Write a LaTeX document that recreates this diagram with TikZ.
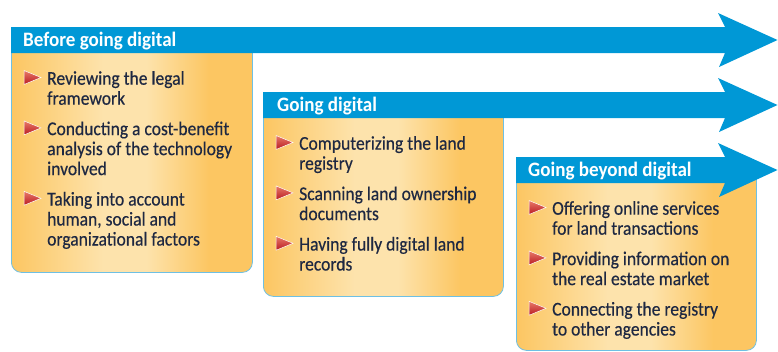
\documentclass[tikz,border=0pt]{standalone}
\usepackage{fontspec}
\setmainfont{Carlito}
\newfontfamily\bodyfont{Carlito}[FakeStretch=0.9, FakeBold=0.4]
\newfontfamily\titlefont{Carlito}[FakeStretch=0.93]
\usetikzlibrary{positioning}

\definecolor{arrowblue}{RGB}{0,152,214}
\definecolor{edgeblue}{RGB}{110,192,228}
\definecolor{boxorange}{RGB}{252,198,98}
\definecolor{boxlight}{RGB}{253,227,172}
\definecolor{inkblue}{RGB}{30,40,66}
\definecolor{bulred}{RGB}{185,26,34}
\definecolor{bulpink}{RGB}{232,122,104}

\pgfdeclarehorizontalshading{boxfade}{100bp}{color(0bp)=(boxorange); color(25bp)=(boxorange); color(44bp)=(boxlight); color(53bp)=(boxlight); color(66bp)=(boxorange); color(100bp)=(boxorange)}

\tikzset{
  stagebox/.style={shade, shading=boxfade, draw=edgeblue, line width=0.8pt, rounded corners=10pt, anchor=north west, inner sep=0pt},
  stagetitle/.style={anchor=base west, inner sep=0pt, text=white, font=\titlefont\fontsize{20.5}{22}\selectfont\bfseries},
  item/.style={anchor=north west, inner sep=0pt, align=left, text=inkblue, font=\bodyfont\fontsize{19.5}{20}\selectfont},
  tri/.pic={\shade[top color=bulpink, bottom color=bulred, draw=white, line width=0.5pt] (-23,0) -- (-6,7) -- (-23,14) -- cycle;},
}

\begin{document}
\begin{tikzpicture}[x=1pt, y=-1pt]
    \useasboundingbox (0,0) rectangle (778,351);

    % boxes
    \node[stagebox, minimum width=241pt, minimum height=245pt] (box1) at (11,27) {};
    \node[stagebox, minimum width=240pt, minimum height=204pt] (box2) at (263,92) {};
    \node[stagebox, minimum width=240pt, minimum height=193pt] (box3) at (516,157) {};

    % arrows
    \foreach \x/\y in {11/40, 263/105, 516/170}
        \fill[arrowblue] (\x,\y-13) -- (725,\y-13) -- (718,\y-27) -- (777.5,\y)
            -- (719,\y+27) -- (725,\y+13) -- (\x,\y+13) -- cycle;

    \node[stagetitle] (t1) at (23,46) {Before going digital};
    \node[stagetitle] (t2) at (277,111) {Going digital};
    \node[stagetitle] (t3) at (528,176) {Going beyond digital};

    % before going digital
    \node[item] (b1i1) at (47,70.5) {\strut Reviewing the legal\\framework\strut};
    \node[item, below=10pt of b1i1.south west, anchor=north west] (b1i2) {\strut Conducting a cost-benefit\\analysis of the technology\\involved\strut};
    \node[item, below=10pt of b1i2.south west, anchor=north west] (b1i3) {\strut Taking into account\\human, social and\\organizational factors\strut};

    % going digital
    \node[item] (b2i1) at (299,135.5) {\strut Computerizing the land\\registry\strut};
    \node[item, below=10pt of b2i1.south west, anchor=north west] (b2i2) {\strut Scanning land ownership\\documents\strut};
    \node[item, below=10pt of b2i2.south west, anchor=north west] (b2i3) {\strut Having fully digital land\\records\strut};

    % going beyond digital
    \node[item] (b3i1) at (552,200.5) {\strut Offering online services\\for land transactions\strut};
    \node[item, below=10pt of b3i1.south west, anchor=north west] (b3i2) {\strut Providing information on\\the real estate market\strut};
    \node[item, below=10pt of b3i2.south west, anchor=north west] (b3i3) {\strut Connecting the registry\\to other agencies\strut};

    \foreach \n in {b1i1,b1i2,b1i3,b2i1,b2i2,b2i3,b3i1,b3i2,b3i3}
        \pic at (\n.north west) {tri};
\end{tikzpicture}
\end{document}
